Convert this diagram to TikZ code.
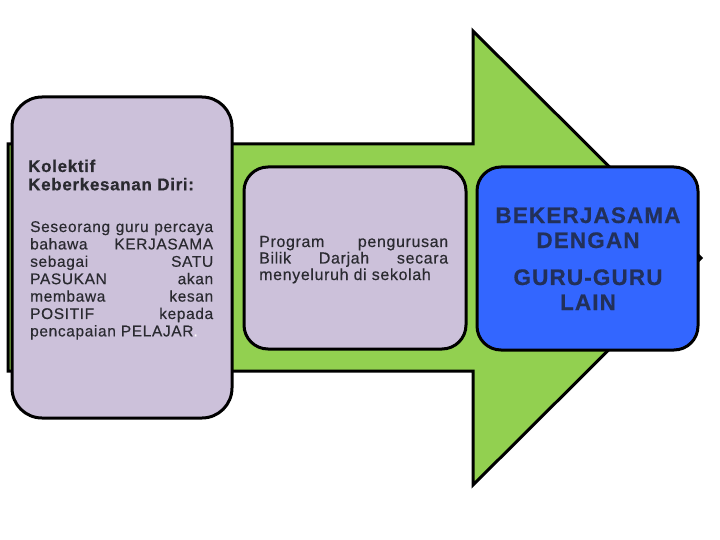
\documentclass[tikz,border=0pt]{standalone}
\usepackage{fontspec}
\setmainfont{Liberation Sans}
\newfontfamily\bodyf[LetterSpace=4, FakeBold=0.4]{Liberation Sans}
\newfontfamily\headf[LetterSpace=4, FakeBold=0.5]{Liberation Sans}
\newfontfamily\bluef[LetterSpace=5, FakeBold=0.5]{Liberation Sans}
\definecolor{arrgreen}{HTML}{92D050}
\definecolor{lav}{HTML}{CCC1DA}
\definecolor{bfill}{HTML}{3366FF}
\definecolor{txt}{HTML}{2A2A30}
\definecolor{btxt}{HTML}{22305A}
\newcommand{\jl}[2][183pt]{\makebox[#1][s]{#2}}
\tikzset{
  boxst/.style={draw=black, line width=3pt, rounded corners=#1},
  txtst/.style={anchor=base west, inner sep=0pt, text=txt},
}
\begin{document}
\begin{tikzpicture}[x=1pt,y=-1pt]
\useasboundingbox (0,0) rectangle (720,540);
% big arrow
\draw[fill=arrgreen, line width=3pt, line join=miter]
  (8,144) -- (473,144) -- (473,31) -- (701,258) -- (473,485) -- (473,371) -- (8,371) -- cycle;
% boxes
\draw[boxst=30pt, fill=lav] (12,97) rectangle (232,418);
\draw[boxst=24pt, fill=lav] (244,167) rectangle (466,349);
\draw[boxst=24pt, fill=bfill] (477,167) rectangle (698,350);
% left texts
\node[txtst] (h1) at (28,172) {\parbox[t]{190pt}{\fontsize{17}{18.3}\headf\bfseries Kolektif\\Keberkesanan Diri:}};
\node[txtst] (b1) at (30,232) {\parbox[t]{183pt}{\fontsize{15.5}{17.4}\bodyf
\jl{Seseorang guru percaya}\\
\jl{bahawa KERJASAMA}\\
\jl{sebagai SATU}\\
\jl{PASUKAN akan}\\
\jl{membawa kesan}\\
\jl{POSITIF kepada}\\
pencapaian PELAJAR{\color{white}.}}};
% middle text
\node[txtst] (m1) at (259,247) {\parbox[t]{189pt}{\fontsize{16}{16.5}\bodyf
\jl[189pt]{Program pengurusan}\\
\jl[189pt]{Bilik Darjah secara}\\
menyeluruh di sekolah}};
% blue text
\node[anchor=base, inner sep=0pt, text=btxt] (r1) at (588,223) {\parbox[t]{220pt}{\centering\fontsize{22.5}{25}\bluef\bfseries
BEKERJASAMA\\
DENGAN\\[12pt]
GURU-GURU\\
LAIN}};
\end{tikzpicture}
\end{document}
